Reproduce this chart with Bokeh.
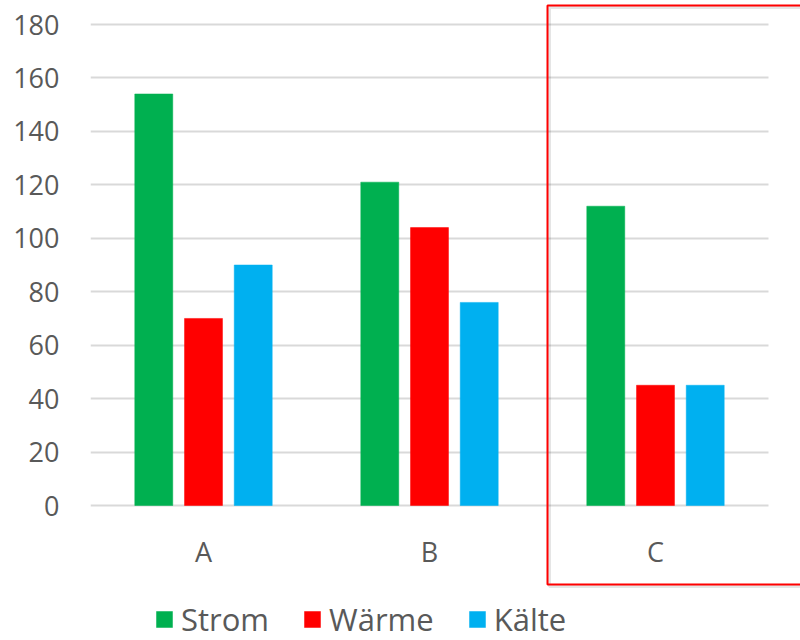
from bokeh.plotting import figure
from bokeh.models import (Range1d, Legend, LegendItem, BoxAnnotation,
                          FixedTicker, ColumnDataSource)
from bokeh.embed import file_html
from bokeh.resources import INLINE

# Categories and series values
categories = ["A", "B", "C"]
strom = [154, 121, 112]
waerme = [70, 104, 45]
kaelte = [90, 76, 45]
series_names = ["Strom", "Wärme", "Kälte"]
y_ticks = [0, 20, 40, 60, 80, 100, 120, 140, 160, 180]

colors = ["#00B050", "#FF0000", "#00B0F0"]
text_color = "#595959"
grid_color = "#D9D9D9"
font = "Open Sans"

# Page geometry (pixels): the plotting frame fills the canvas to the right and
# bottom so the legend and the highlight frame can sit outside the value area.
W, H = 800, 640
left_px, top_px = 90, 3
y0_px, y180_px = 505, 24          # where the value axis runs from 0 to 180
cat_px = 226                       # width of one category slot
px_per_unit = (y0_px - y180_px) / 180.0

y_start = -(H - y0_px) / px_per_unit
y_end = 180 + (y180_px - top_px) / px_per_unit
x_start = -0.5
x_end = x_start + (W - left_px) / cat_px
last_slot = len(categories) - 0.5

xs = list(range(len(categories)))
series = {"strom": strom, "waerme": waerme, "kaelte": kaelte}

p = figure(
    x_range=Range1d(x_start, x_end), y_range=Range1d(y_start, y_end),
    width=W, height=H,
    frame_width=W - left_px, frame_height=H - top_px,
    min_border_left=left_px, min_border_right=0, min_border_top=top_px, min_border_bottom=0,
    output_backend="svg", toolbar_location=None,
    background_fill_color="white", border_fill_color="white",
    outline_line_color=None,
)

renderers = []
for field, off, col in zip(series, [-0.22, 0.0, 0.22], colors):
    src = ColumnDataSource(dict(x=[x + off for x in xs], top=series[field]))
    r = p.vbar(x="x", top="top", width=0.168, source=src,
               fill_color=col, line_color=col, line_width=0.5)
    renderers.append(r)

# Value axis and horizontal gridlines
p.yaxis.ticker = FixedTicker(ticks=y_ticks)
p.ygrid.ticker = FixedTicker(ticks=y_ticks)
p.ygrid.grid_line_color = grid_color
p.ygrid.grid_line_width = 2
p.xgrid.grid_line_color = None

p.yaxis.axis_line_color = None
p.yaxis.major_tick_line_color = None
p.yaxis.minor_tick_line_color = None
p.yaxis.major_label_standoff = 25
p.yaxis.major_label_text_font = font
p.yaxis.major_label_text_font_size = "27px"
p.yaxis.major_label_text_color = text_color

# Category axis pinned to the zero line
p.xaxis.fixed_location = 0
p.xaxis.ticker = FixedTicker(ticks=xs)
p.xaxis.major_label_overrides = {x: c for x, c in zip(xs, categories)}
p.xaxis.axis_line_color = None
p.xaxis.major_tick_line_color = None
p.xaxis.minor_tick_line_color = None
p.xaxis.major_label_standoff = 21
p.xaxis.major_label_text_font = font
p.xaxis.major_label_text_font_size = "27px"
p.xaxis.major_label_text_color = text_color

# Gridlines stop at the end of the last category slot
p.add_layout(BoxAnnotation(left=last_slot, right=x_end, bottom=y_start, top=y_end,
                           fill_color="white", fill_alpha=1, line_color=None))

# Legend underneath the category labels
legend = Legend(
    items=[LegendItem(label=n, renderers=[r]) for n, r in zip(series_names, renderers)],
    orientation="horizontal", location=(64, 0),
    border_line_color=None, background_fill_alpha=0,
    label_text_font=font, label_text_font_size="31px", label_text_color=text_color,
    glyph_width=20, glyph_height=20, label_standoff=7, spacing=33,
    padding=0, margin=0,
)
p.add_layout(legend)

# Highlight frame around category C
shadow = BoxAnnotation(left=549, right=803, top=7, bottom=586,
                       left_units="canvas", right_units="canvas",
                       top_units="canvas", bottom_units="canvas",
                       fill_alpha=0, line_color="#000000", line_alpha=0.10, line_width=3)
box = BoxAnnotation(left=547, right=802, top=5, bottom=584,
                    left_units="canvas", right_units="canvas",
                    top_units="canvas", bottom_units="canvas",
                    fill_alpha=0, line_color="#FF0000", line_alpha=1, line_width=2)
p.add_layout(shadow)
p.add_layout(box)

open("out.html", "w").write(file_html(p, INLINE))
